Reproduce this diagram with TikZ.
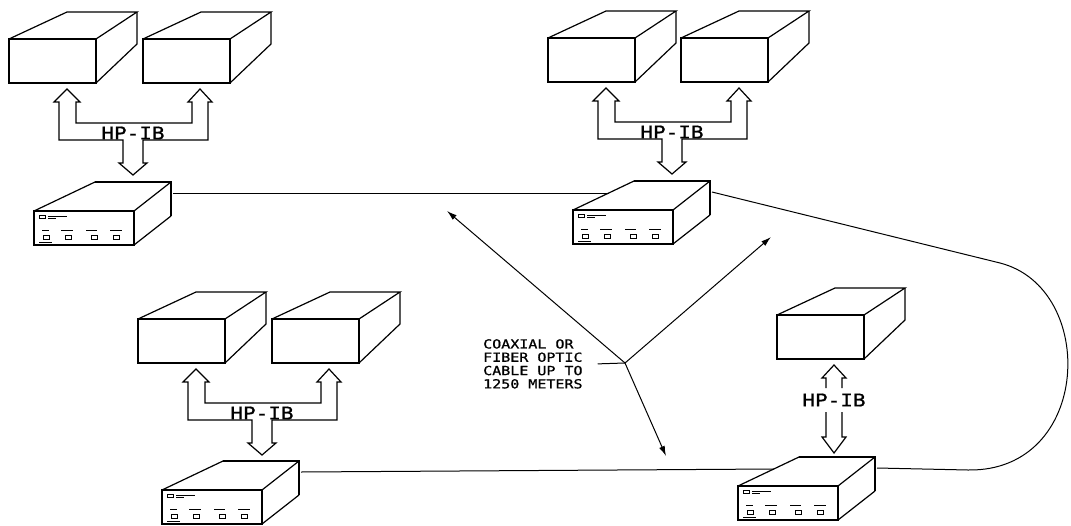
\documentclass[tikz,border=0pt]{standalone}
\usepackage{fontspec}
\newfontfamily\plotfont[FakeStretch=1.2, FakeBold=1]{DejaVu Sans Mono}
\usepackage{tikz}
\usetikzlibrary{arrows.meta, positioning}

\tikzset{
  unit/.style={line width=1.2pt, line join=miter},
  cable/.style={line width=1pt},
  pointer/.style={line width=1pt, -{Latex[length=10pt, width=6pt]}},
  buslabel/.style={font=\plotfont\fontsize{17.5}{18}\selectfont, inner sep=0pt},
  instrument/.pic={
    \draw[unit] (0,0) rectangle (87,44);
    \draw[unit] (0,0) -- (58,-27) -- (128,-27) -- (87,0);
    \draw[unit] (128,-27) -- (128,5) -- (87,44);
  },
  extender/.pic={
    \draw[unit] (0,0) rectangle (100,34);
    \draw[unit] (0,0) -- (61,-29);
    \draw[unit] (100,0) -- (137,-29);
    \draw[unit] (100,34) -- (137,5);
    \draw[line width=2.2pt] (61,-29) -- (137,-29) -- (137,5);
    % front panel
    \draw[line width=1pt] (5,4) rectangle (11,7);
    \draw[line width=0.7pt] (14,5) -- (33,5) (14,7) -- (22,7);
    \foreach \a/\b in {8/15, 27/39, 52/63, 76/88}
      \draw[line width=1pt] (\a,19) -- (\b,19);
    \foreach \a in {9, 31, 57, 79}
      \draw[line width=1pt] (\a,24) rectangle ++(6,4);
    \draw[line width=0.7pt] (5,31) -- (18,31);
    \coordinate (-in) at (36,-17);
    \coordinate (-port) at (139,-18);
  },
  pairbus/.pic={
    \draw[unit] (67,63) -- (67,84) -- (183,84) -- (183,63) -- (179,63) -- (191,50)
      -- (203,63) -- (199,63) -- (199,101) -- (134,101) -- (134,124) -- (138,124)
      -- (124,136) -- (110,124) -- (114,124) -- (114,101) -- (50,101) -- (50,63)
      -- (45,63) -- (58,50) -- (71,63) -- cycle;
    \node[buslabel] (-label) at (124,94) {HP-IB};
  },
  singlebus/.pic={
    \draw[unit] (49,73) -- (49,63) -- (45,63) -- (57,50) -- (69,63) -- (65,63) -- (65,73);
    \draw[unit] (49,97) -- (49,122) -- (45,122) -- (57,138) -- (69,122) -- (65,122) -- (65,97);
    \node[buslabel] (-label) at (57,85) {HP-IB};
  },
}

\begin{document}
\begin{tikzpicture}[x=1pt, y=-1pt]
  \useasboundingbox (0,0) rectangle (1071,525);

  % Top left site
  \pic (ia) at (9,39) {instrument};
  \pic (ib) at (143,39) {instrument};
  \pic (busa) at (9,39) {pairbus};
  \pic (ea) at (34,211) {extender};

  % Top right site
  \pic (ic) at (548,38) {instrument};
  \pic (id) at (681,38) {instrument};
  \pic (busb) at (548,38) {pairbus};
  \pic (eb) at (573,210) {extender};

  % Bottom left site
  \pic (ie) at (138,319) {instrument};
  \pic (if) at (272,319) {instrument};
  \pic (busc) at (138,319) {pairbus};
  \pic (ec) at (162,490) {extender};

  % Bottom right site
  \pic (ig) at (777,315) {instrument};
  \pic (busd) at (777,315) {singlebus};
  \pic (ed) at (738,486) {extender};

  % Cables
  \coordinate (loopa) at (1000,263);
  \coordinate (loopb) at (968,470);
  \draw[cable] (ea-port) -- (eb-in);
  \draw[cable] (eb-port) -- (loopa) .. controls (1098,288) and (1092,472) .. (loopb) -- (ed-port);
  \draw[cable] (ec-port) -- (ed-in);

  % Cable note
  \node[font=\plotfont\fontsize{12.5}{13.3}\selectfont, align=left, anchor=north west, inner sep=0pt] (cablelabel) at (483,339) {COAXIAL OR\\FIBER OPTIC\\CABLE UP TO\\1250 METERS};
  \coordinate (hub) at (625,363);
  \coordinate (tipa) at (447,211);
  \coordinate (tipb) at (771,237);
  \coordinate (tipc) at (666,456);
  \draw[cable] ([xshift=15pt]cablelabel.east) -- (hub);
  \draw[pointer] (hub) -- (tipa);
  \draw[pointer] (hub) -- (tipb);
  \draw[pointer] (hub) -- (tipc);
\end{tikzpicture}
\end{document}
